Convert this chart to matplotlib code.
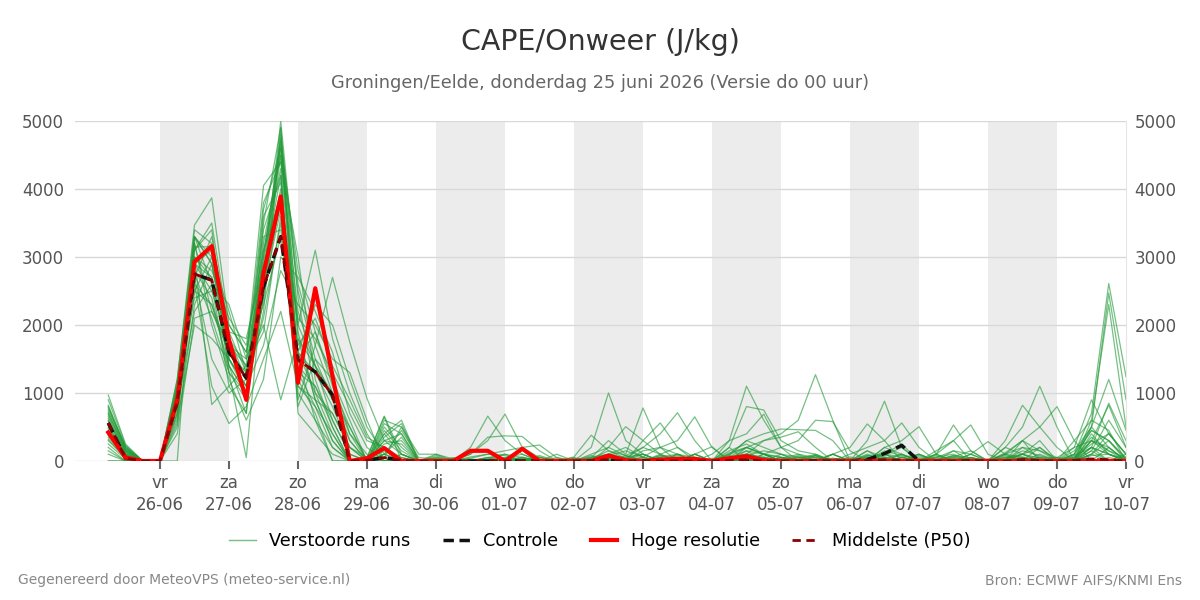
import numpy as np
import matplotlib
matplotlib.use("Agg")
import matplotlib.pyplot as plt

# ---------- data (J/kg), 6-hourly from 25-06 06 UTC up to 10-07 00 UTC ----------
t_start = np.datetime64("2026-06-25T06:00")
n_steps = 60

day_ticks = ["2026-06-%02d" % d for d in range(26, 31)] + ["2026-07-%02d" % d for d in range(1, 11)]
day_names = ["vr", "za", "zo", "ma", "di", "wo", "do", "vr", "za", "zo", "ma", "di", "wo", "do", "vr"]
shaded_days = ["2026-06-26", "2026-06-28", "2026-06-30", "2026-07-02", "2026-07-04", "2026-07-06", "2026-07-08"]

# perturbed members, first part (25-06 06 .. 29-06 12)
runs_early = [
    [800, 200, 0, 0, 1000, 3300, 2900, 1500, 1100, 3000, 4700, 1800, 900, 300, 0, 0, 100, 20, 0],
    [650, 150, 0, 0, 900, 3100, 3500, 1900, 1300, 2600, 4500, 2200, 1400, 600, 100, 0, 300, 400, 0],
    [500, 100, 0, 0, 1100, 2900, 2700, 1400, 700, 3500, 4900, 1300, 800, 200, 0, 50, 660, 100, 0],
    [970, 250, 0, 0, 1200, 3470, 3870, 2000, 1600, 2800, 4200, 1000, 600, 0, 0, 0, 200, 50, 0],
    [300, 50, 0, 0, 700, 2500, 2300, 1600, 1200, 3700, 4600, 2500, 1500, 900, 300, 0, 50, 500, 0],
    [0, 0, 0, 0, 0, 3300, 3000, 1700, 900, 2400, 3900, 2000, 3100, 1800, 1000, 400, 0, 0, 0],
    [700, 180, 0, 0, 950, 3000, 830, 1100, 1400, 1900, 3600, 900, 1700, 2700, 1750, 920, 300, 100, 0],
    [400, 80, 0, 0, 800, 2200, 2600, 2300, 1500, 4050, 4400, 3000, 1200, 500, 0, 0, 400, 600, 0],
    [600, 120, 0, 0, 1050, 3200, 2000, 1200, 600, 1200, 3000, 2700, 2200, 1600, 700, 200, 0, 0, 0],
    [200, 0, 0, 0, 600, 2000, 1800, 1500, 1000, 2200, 4800, 1500, 1900, 1100, 500, 0, 100, 450, 50],
    [750, 220, 0, 0, 1150, 3400, 3200, 1300, 50, 2700, 5000, 2400, 1000, 400, 0, 0, 500, 200, 0],
    [350, 60, 0, 0, 850, 2700, 3300, 1800, 1200, 3300, 3400, 1600, 2300, 2000, 1200, 500, 100, 0, 0],
    [550, 130, 0, 0, 1000, 2600, 1100, 550, 800, 1500, 2200, 1100, 900, 700, 200, 0, 0, 0, 0],
    [450, 90, 0, 0, 750, 3000, 2800, 2100, 1700, 3100, 4300, 700, 400, 100, 0, 0, 250, 300, 0],
    [820, 200, 0, 0, 1100, 2400, 2500, 1700, 1400, 2000, 900, 1800, 1400, 1000, 400, 100, 0, 100, 0],
    [250, 30, 0, 0, 650, 2900, 3100, 1400, 1000, 3600, 4100, 1200, 700, 0, 0, 0, 600, 500, 100],
    [680, 160, 0, 0, 900, 3200, 2200, 1600, 1300, 2500, 3700, 2100, 1800, 1300, 800, 300, 200, 0, 0],
    [150, 0, 0, 0, 500, 2300, 2900, 1900, 1800, 2900, 4600, 1400, 1100, 500, 0, 0, 450, 150, 0],
    [720, 170, 0, 0, 1000, 3100, 3400, 1500, 1100, 1700, 2800, 2300, 2000, 1500, 1300, 600, 0, 0, 0],
    [580, 140, 0, 0, 880, 2800, 2400, 1300, 900, 3200, 4500, 1900, 900, 300, 0, 0, 350, 550, 0],
    [0, 0, 0, 0, 400, 2100, 2200, 1700, 1500, 2300, 3300, 1600, 1300, 800, 200, 0, 0, 0, 0],
    [900, 230, 0, 0, 1200, 3300, 2600, 1100, 700, 2800, 4000, 800, 1500, 1200, 600, 0, 150, 0, 0],
    [480, 110, 0, 0, 950, 2500, 3000, 2200, 1300, 3000, 4750, 2600, 1700, 1000, 300, 0, 550, 400, 0],
    [380, 70, 0, 0, 820, 3000, 2700, 1500, 1100, 2600, 3800, 1300, 1100, 600, 100, 0, 0, 50, 0],
    [620, 150, 0, 0, 980, 2700, 1500, 1000, 1200, 2100, 3500, 1700, 2100, 1400, 900, 350, 200, 0, 0],
    [320, 40, 0, 0, 700, 3150, 3150, 1800, 1400, 3800, 4400, 1500, 600, 200, 0, 0, 300, 250, 0],
    [780, 190, 0, 0, 1080, 2600, 2300, 1400, 1000, 2400, 4900, 2000, 1400, 900, 500, 0, 0, 0, 0],
    [100, 0, 0, 0, 550, 2900, 2500, 2000, 1600, 3400, 4200, 1100, 800, 400, 0, 0, 400, 100, 0],
    [520, 100, 0, 0, 900, 3300, 2900, 1600, 1200, 2700, 4650, 2800, 1900, 1200, 400, 0, 100, 350, 0],
    [430, 90, 0, 0, 870, 2750, 2100, 1300, 1000, 3100, 3900, 1600, 1000, 700, 200, 50, 650, 0, 0],
]

# perturbed members, second part (30-06 00 .. 10-07 00)
runs_late = [
    [0, 20, 0, 50, 30, 0, 0, 10, 0, 60, 100, 40, 0, 80, 50, 0, 100, 300, 1100, 600, 200, 100, 50, 0, 0, 40, 100, 60, 0, 20, 80, 50, 0, 30, 100, 40, 0, 100, 500, 2470, 900],
    [50, 0, 100, 300, 690, 200, 50, 0, 0, 30, 150, 80, 200, 100, 0, 50, 0, 80, 300, 200, 100, 60, 0, 40, 0, 150, 50, 0, 100, 0, 40, 0, 0, 120, 300, 150, 50, 200, 900, 400, 100],
    [0, 0, 30, 0, 20, 0, 80, 0, 0, 200, 1000, 300, 100, 0, 60, 0, 0, 120, 200, 100, 0, 50, 80, 0, 30, 0, 200, 100, 0, 0, 60, 150, 0, 0, 50, 0, 0, 50, 300, 150, 0],
    [100, 30, 0, 0, 50, 100, 0, 0, 20, 0, 80, 150, 60, 0, 100, 50, 0, 200, 800, 750, 300, 150, 100, 0, 0, 50, 100, 0, 40, 0, 0, 50, 0, 100, 200, 150, 0, 0, 200, 100, 0],
    [0, 0, 0, 30, 100, 50, 0, 0, 60, 380, 150, 40, 0, 100, 200, 50, 0, 50, 150, 100, 60, 0, 20, 0, 0, 80, 30, 0, 0, 60, 100, 0, 0, 20, 150, 80, 0, 300, 600, 2300, 500],
    [20, 0, 0, 0, 0, 40, 0, 30, 0, 0, 100, 200, 50, 0, 80, 0, 0, 30, 100, 50, 20, 0, 80, 0, 100, 200, 300, 560, 200, 0, 50, 20, 0, 80, 0, 30, 0, 60, 450, 300, 0],
    [0, 10, 40, 100, 80, 0, 0, 0, 30, 0, 50, 0, 150, 200, 100, 0, 0, 100, 300, 400, 470, 460, 450, 300, 0, 60, 0, 100, 0, 0, 30, 0, 0, 0, 100, 200, 0, 40, 350, 150, 50],
    [60, 0, 200, 660, 300, 100, 0, 0, 0, 100, 200, 80, 0, 30, 0, 100, 0, 60, 200, 100, 50, 0, 0, 100, 0, 0, 150, 80, 30, 0, 0, 100, 0, 50, 60, 0, 0, 150, 500, 1200, 450],
    [0, 0, 0, 0, 20, 0, 50, 0, 0, 0, 200, 505, 300, 100, 0, 60, 0, 0, 100, 50, 0, 30, 100, 0, 0, 0, 100, 250, 0, 50, 150, 0, 0, 0, 30, 0, 0, 200, 300, 820, 200],
    [30, 0, 0, 50, 100, 0, 0, 0, 40, 0, 0, 60, 100, 0, 0, 30, 0, 50, 100, 300, 400, 600, 1270, 600, 0, 0, 30, 100, 0, 0, 0, 50, 0, 0, 200, 50, 0, 0, 150, 600, 200],
    [0, 0, 20, 0, 0, 50, 0, 0, 0, 30, 100, 40, 200, 400, 710, 300, 0, 40, 100, 0, 50, 0, 0, 40, 0, 100, 0, 50, 0, 100, 0, 0, 30, 0, 100, 300, 0, 0, 100, 300, 50],
    [0, 30, 100, 350, 370, 360, 150, 0, 0, 0, 60, 0, 100, 0, 50, 0, 0, 0, 80, 150, 100, 0, 50, 0, 0, 30, 0, 0, 80, 0, 0, 40, 0, 100, 50, 0, 0, 50, 250, 400, 100],
    [80, 0, 0, 0, 0, 0, 0, 50, 0, 0, 30, 0, 0, 60, 100, 0, 0, 0, 60, 0, 50, 20, 0, 0, 0, 40, 80, 200, 0, 100, 530, 150, 0, 0, 0, 60, 40, 0, 80, 100, 0],
    [0, 0, 0, 0, 50, 30, 0, 0, 0, 50, 300, 100, 780, 200, 0, 0, 0, 150, 250, 100, 0, 0, 60, 0, 0, 0, 50, 0, 0, 0, 80, 0, 0, 30, 0, 0, 0, 0, 100, 410, 100],
    [0, 40, 0, 0, 0, 0, 0, 0, 0, 0, 0, 80, 0, 50, 0, 100, 0, 0, 40, 0, 30, 100, 0, 0, 0, 60, 0, 50, 0, 0, 150, 100, 285, 100, 0, 0, 50, 0, 300, 100, 30],
    [100, 0, 0, 0, 0, 20, 0, 0, 0, 40, 80, 0, 60, 200, 300, 650, 200, 0, 0, 100, 0, 50, 0, 0, 40, 0, 0, 0, 100, 0, 0, 0, 0, 60, 0, 30, 0, 80, 200, 850, 300],
    [0, 0, 60, 100, 150, 200, 235, 50, 0, 0, 40, 0, 0, 0, 100, 0, 0, 80, 0, 60, 0, 0, 30, 0, 0, 80, 100, 0, 0, 50, 0, 0, 0, 200, 100, 0, 0, 0, 500, 200, 0],
    [30, 0, 0, 0, 0, 0, 0, 100, 0, 0, 0, 40, 100, 0, 0, 0, 0, 200, 0, 100, 200, 300, 600, 580, 150, 0, 0, 0, 60, 0, 0, 100, 0, 0, 0, 0, 0, 100, 450, 300, 30],
    [0, 0, 0, 20, 0, 0, 60, 0, 0, 50, 0, 0, 0, 80, 0, 0, 40, 0, 150, 0, 0, 60, 0, 100, 0, 300, 880, 200, 0, 0, 0, 50, 0, 0, 0, 50, 0, 0, 0, 200, 0],
    [0, 50, 0, 0, 0, 0, 0, 0, 30, 0, 100, 0, 300, 560, 200, 0, 0, 0, 200, 100, 0, 0, 0, 0, 60, 0, 0, 0, 0, 150, 300, 0, 0, 0, 0, 100, 0, 0, 300, 200, 0],
    [0, 0, 0, 0, 0, 0, 0, 0, 0, 0, 50, 30, 0, 0, 0, 100, 0, 50, 100, 0, 0, 0, 80, 0, 0, 0, 0, 50, 100, 0, 0, 0, 0, 300, 820, 500, 200, 0, 0, 0, 100],
    [40, 0, 0, 0, 0, 0, 30, 0, 0, 80, 0, 0, 50, 0, 0, 100, 210, 0, 0, 50, 0, 0, 0, 100, 0, 0, 0, 0, 0, 40, 60, 0, 0, 0, 50, 0, 0, 0, 200, 100, 0],
    [0, 20, 0, 0, 0, 0, 0, 0, 0, 0, 0, 0, 0, 0, 50, 0, 0, 300, 400, 690, 200, 0, 0, 0, 0, 150, 0, 0, 0, 80, 0, 0, 0, 0, 300, 0, 0, 0, 600, 450, 0],
    [0, 0, 0, 50, 0, 0, 0, 0, 0, 0, 30, 0, 0, 0, 0, 0, 0, 0, 100, 0, 0, 80, 0, 0, 0, 0, 200, 300, 505, 100, 0, 0, 0, 50, 100, 0, 0, 0, 0, 50, 0],
    [0, 0, 0, 0, 30, 0, 0, 0, 50, 0, 0, 0, 0, 0, 0, 0, 0, 0, 50, 0, 100, 0, 0, 0, 0, 0, 0, 0, 0, 100, 300, 530, 100, 0, 0, 200, 0, 0, 150, 0, 0],
    [0, 0, 0, 0, 0, 0, 0, 0, 0, 0, 80, 0, 0, 50, 0, 0, 0, 100, 200, 300, 350, 430, 200, 0, 0, 0, 0, 0, 0, 0, 0, 0, 0, 0, 0, 0, 50, 0, 400, 100, 0],
    [0, 0, 0, 0, 0, 60, 0, 0, 0, 0, 0, 0, 0, 0, 0, 0, 0, 0, 0, 0, 50, 0, 0, 100, 200, 545, 300, 0, 0, 0, 0, 0, 0, 0, 0, 0, 0, 30, 200, 0, 0],
    [0, 0, 0, 0, 0, 0, 0, 0, 0, 0, 0, 0, 0, 0, 0, 0, 0, 50, 0, 0, 0, 0, 0, 0, 0, 0, 60, 0, 0, 0, 0, 0, 0, 200, 500, 1100, 500, 0, 100, 0, 0],
    [0, 0, 0, 0, 0, 0, 0, 0, 0, 0, 0, 0, 30, 0, 0, 0, 0, 0, 0, 0, 0, 0, 0, 0, 0, 0, 0, 0, 0, 0, 0, 0, 0, 100, 300, 500, 800, 300, 0, 0, 0],
    [0, 0, 0, 0, 0, 0, 0, 0, 0, 0, 0, 0, 0, 0, 0, 0, 0, 0, 0, 0, 0, 0, 0, 0, 0, 0, 0, 0, 0, 0, 0, 0, 0, 0, 0, 0, 0, 100, 700, 2610, 1240],
]

control = [560, 40, 0, 0, 870, 2750, 2660, 1600, 1220, 2560, 3300, 1490, 1310, 970, 0, 10, 50, 10, 0,
           0, 0, 0, 0, 0, 0, 0, 0, 0, 0, 10, 0, 0, 0, 0, 0, 0, 0, 0, 10,
           0, 0, 0, 10, 0, 20, 110, 230, 0, 0, 0, 0, 0, 0, 10, 0, 0, 0, 20, 0, 0]
hres = [420, 50, 0, 0, 900, 2930, 3160, 1780, 900, 2760, 3890, 1150, 2540, 1250, 0, 40, 190, 0, 0,
        0, 0, 150, 150, 0, 180, 0, 0, 0, 0, 80, 10, 0, 20, 30, 30, 0, 40, 70, 10,
        0, 0, 0, 0, 0, 0, 0, 0, 0, 0, 0, 0, 0, 0, 0, 0, 0, 0, 0, 0, 0]
p50 = [560, 40, 0, 0, 870, 2750, 2660, 1600, 1220, 2560, 3300, 1490, 1310, 970, 0, 10, 50, 10, 0,
       0, 0, 0, 10, 0, 0, 0, 0, 0, 10, 20, 0, 10, 0, 0, 0, 0, 10, 20, 0,
       0, 0, 10, 0, 0, 10, 20, 10, 0, 0, 0, 10, 0, 0, 20, 10, 0, 10, 30, 20, 0]

assert all(len(a) + len(b) == n_steps for a, b in zip(runs_early, runs_late))

times = t_start + np.arange(n_steps) * np.timedelta64(6, "h")

# ---------- figure ----------
fig = plt.figure(figsize=(12, 6), dpi=100)
ax = fig.add_axes([75 / 1200, 1 - 461 / 600, (1126 - 75) / 1200, (461 - 121) / 600])

for d in shaded_days:
    d0 = np.datetime64(d + "T00:00")
    ax.axvspan(d0, d0 + np.timedelta64(1, "D"), color="#ececec", lw=0, zorder=0)

for a, b in zip(runs_early, runs_late):
    ax.plot(times, a + b, color="#239a38", alpha=0.62, lw=0.9, zorder=2)

ax.plot(times, control, color="#111111", lw=2.5, ls=(0, (3, 1.6)), zorder=3)
ax.plot(times, hres, color="#ff0000", lw=3, zorder=4)
ax.plot(times, p50, color="#8b0000", lw=2, ls=(0, (3, 2)), zorder=5)

ax.set_ylim(0, 5000)
ax.set_xlim(np.datetime64("2026-06-24T18:26"), np.datetime64("2026-07-10T00:00"))
ax.set_yticks([0, 1000, 2000, 3000, 4000, 5000])
ax.grid(axis="y", color="#d8d8d8", lw=1, zorder=1)
ax.set_axisbelow(True)
for s in ["top", "left", "bottom"]:
    ax.spines[s].set_visible(False)
ax.spines["right"].set_color("#e6e6e6")

ax.set_xticks([np.datetime64(d + "T00:00") for d in day_ticks])
ax.set_xticklabels([n + "\n" + d[8:] + "-" + d[5:7] for n, d in zip(day_names, day_ticks)],
                   fontsize=12, color="#555555", linespacing=1.35)
ax.tick_params(axis="x", length=6, width=1.5, color="#666666", pad=3)
ax.tick_params(axis="y", length=0, labelsize=12, labelcolor="#555555", pad=8)

ax2 = ax.twinx()
ax2.set_ylim(0, 5000)
ax2.set_yticks([0, 1000, 2000, 3000, 4000, 5000])
ax2.tick_params(axis="y", length=0, labelsize=12, labelcolor="#555555", pad=6)
for s in ax2.spines.values():
    s.set_visible(False)

fig.text(0.5, 1 - 42 / 600, "CAPE/Onweer (J/kg)", ha="center", va="center", fontsize=20.5, color="#333333")
fig.text(0.5, 1 - 83 / 600, "Groningen/Eelde, donderdag 25 juni 2026 (Versie do 00 uur)",
         ha="center", va="center", fontsize=12.75, color="#666666")

handles = [
    plt.Line2D([], [], color="#239a38", alpha=0.62, lw=1),
    plt.Line2D([], [], color="#111111", lw=2.5, ls=(0, (3, 1.6))),
    plt.Line2D([], [], color="#ff0000", lw=3),
    plt.Line2D([], [], color="#8b0000", lw=2, ls=(0, (3, 2))),
]
labels = ["Verstoorde runs", "Controle", "Hoge resolutie", "Middelste (P50)"]
fig.legend(handles, labels, loc="center", bbox_to_anchor=(0.5, 1 - 541 / 600), ncol=4,
           frameon=False, fontsize=12.75, handlelength=1.5, handletextpad=0.75, columnspacing=1.85)

fig.text(18 / 1200, 1 - 580 / 600, "Gegenereerd door MeteoVPS (meteo-service.nl)",
         ha="left", va="center", fontsize=10, color="#888888")
fig.text(1182 / 1200, 1 - 580 / 600, "Bron: ECMWF AIFS/KNMI Ens",
         ha="right", va="center", fontsize=10, color="#888888")

fig.savefig("out.png", dpi=100)
